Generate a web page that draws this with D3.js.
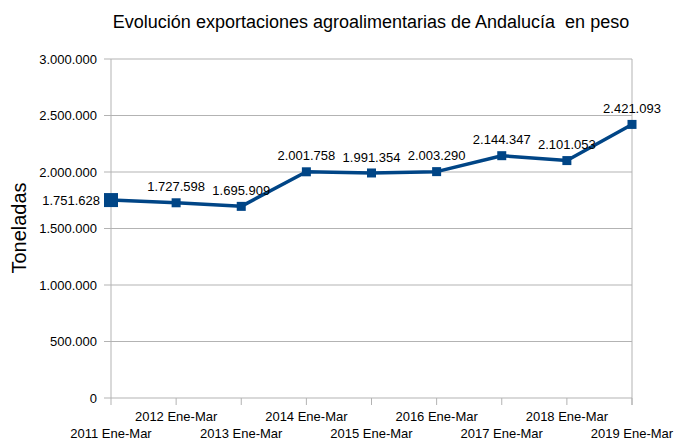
<!DOCTYPE html>
<html><head><meta charset="utf-8">
<script src="https://cdn.jsdelivr.net/npm/d3@7"></script>
<style>body{margin:0;background:#fff;font-family:"Liberation Sans",Arial,sans-serif}</style>
</head><body><svg id="c" width="677" height="441"></svg>
<script>
const categories = ["2011 Ene-Mar","2012 Ene-Mar","2013 Ene-Mar","2014 Ene-Mar","2015 Ene-Mar","2016 Ene-Mar","2017 Ene-Mar","2018 Ene-Mar","2019 Ene-Mar"];
const values = [1751628,1727598,1695909,2001758,1991354,2003290,2144347,2101053,2421093];
const yTicks = [0,500000,1000000,1500000,2000000,2500000,3000000];
const title = "Evolución exportaciones agroalimentarias de Andalucía  en peso";
const yTitle = "Toneladas";

const fmt = v => d3.format(",")(v).replace(/,/g, ".");
const svg = d3.select("#c");
const L = 111, R = 632, T = 59, B = 398;
const x = d3.scalePoint().domain(categories).range([L, R]);
const y = d3.scaleLinear().domain([0, 3000000]).range([B, T]);

// gridlines
svg.append("g").selectAll("line").data(yTicks).join("line")
  .attr("x1", L - 7).attr("x2", R).attr("y1", d => y(d)).attr("y2", d => y(d))
  .attr("stroke", "#b3b3b3").attr("stroke-width", 1);
svg.append("line").attr("x1", L).attr("x2", L).attr("y1", T).attr("y2", B).attr("stroke", "#b3b3b3");
svg.append("line").attr("x1", R).attr("x2", R).attr("y1", T).attr("y2", B + 7).attr("stroke", "#b3b3b3");
// x ticks
svg.append("g").selectAll("line").data(categories).join("line")
  .attr("x1", d => x(d)).attr("x2", d => x(d)).attr("y1", B).attr("y2", B + 7)
  .attr("stroke", "#b3b3b3");

// y tick labels
svg.append("g").selectAll("text").data(yTicks).join("text")
  .attr("x", 97).attr("y", d => y(d)).attr("dy", "0.35em")
  .attr("text-anchor", "end").attr("font-size", 13).attr("fill", "#000")
  .text(d => fmt(d));

// x labels (staggered)
svg.append("g").selectAll("text").data(categories).join("text")
  .attr("x", d => x(d)).attr("y", (d, i) => i % 2 ? 421 : 438)
  .attr("text-anchor", "middle").attr("font-size", 13).attr("fill", "#000")
  .text(d => d);

// title
svg.append("text").attr("x", 371).attr("y", 28).attr("text-anchor", "middle")
  .attr("font-size", 18).attr("fill", "#000").style("white-space", "pre").text(title);
svg.append("text").attr("transform", "translate(26,228) rotate(-90)")
  .attr("text-anchor", "middle").attr("font-size", 20).attr("fill", "#000").text(yTitle);

// line
const line = d3.line().x((d, i) => x(categories[i])).y(d => y(d));
svg.append("path").datum(values).attr("d", line).attr("fill", "none")
  .attr("stroke", "#004586").attr("stroke-width", 3.5).attr("stroke-linejoin", "round");

// markers
svg.append("g").selectAll("rect").data(values).join("rect")
  .attr("x", (d, i) => x(categories[i]) - (i === 0 ? 7 : 4.5))
  .attr("y", (d, i) => y(d) - (i === 0 ? 7 : 4.5))
  .attr("width", (d, i) => i === 0 ? 14 : 9).attr("height", (d, i) => i === 0 ? 14 : 9)
  .attr("fill", "#004586");

// data labels
svg.append("g").selectAll("text").data(values).join("text")
  .attr("x", (d, i) => i === 0 ? x(categories[i]) - 11 : x(categories[i]))
  .attr("y", (d, i) => i === 0 ? y(d) : y(d) - 16)
  .attr("dy", "0.35em")
  .attr("text-anchor", (d, i) => i === 0 ? "end" : "middle")
  .attr("font-size", 13).attr("fill", "#000")
  .text(d => fmt(d));
</script></body></html>
